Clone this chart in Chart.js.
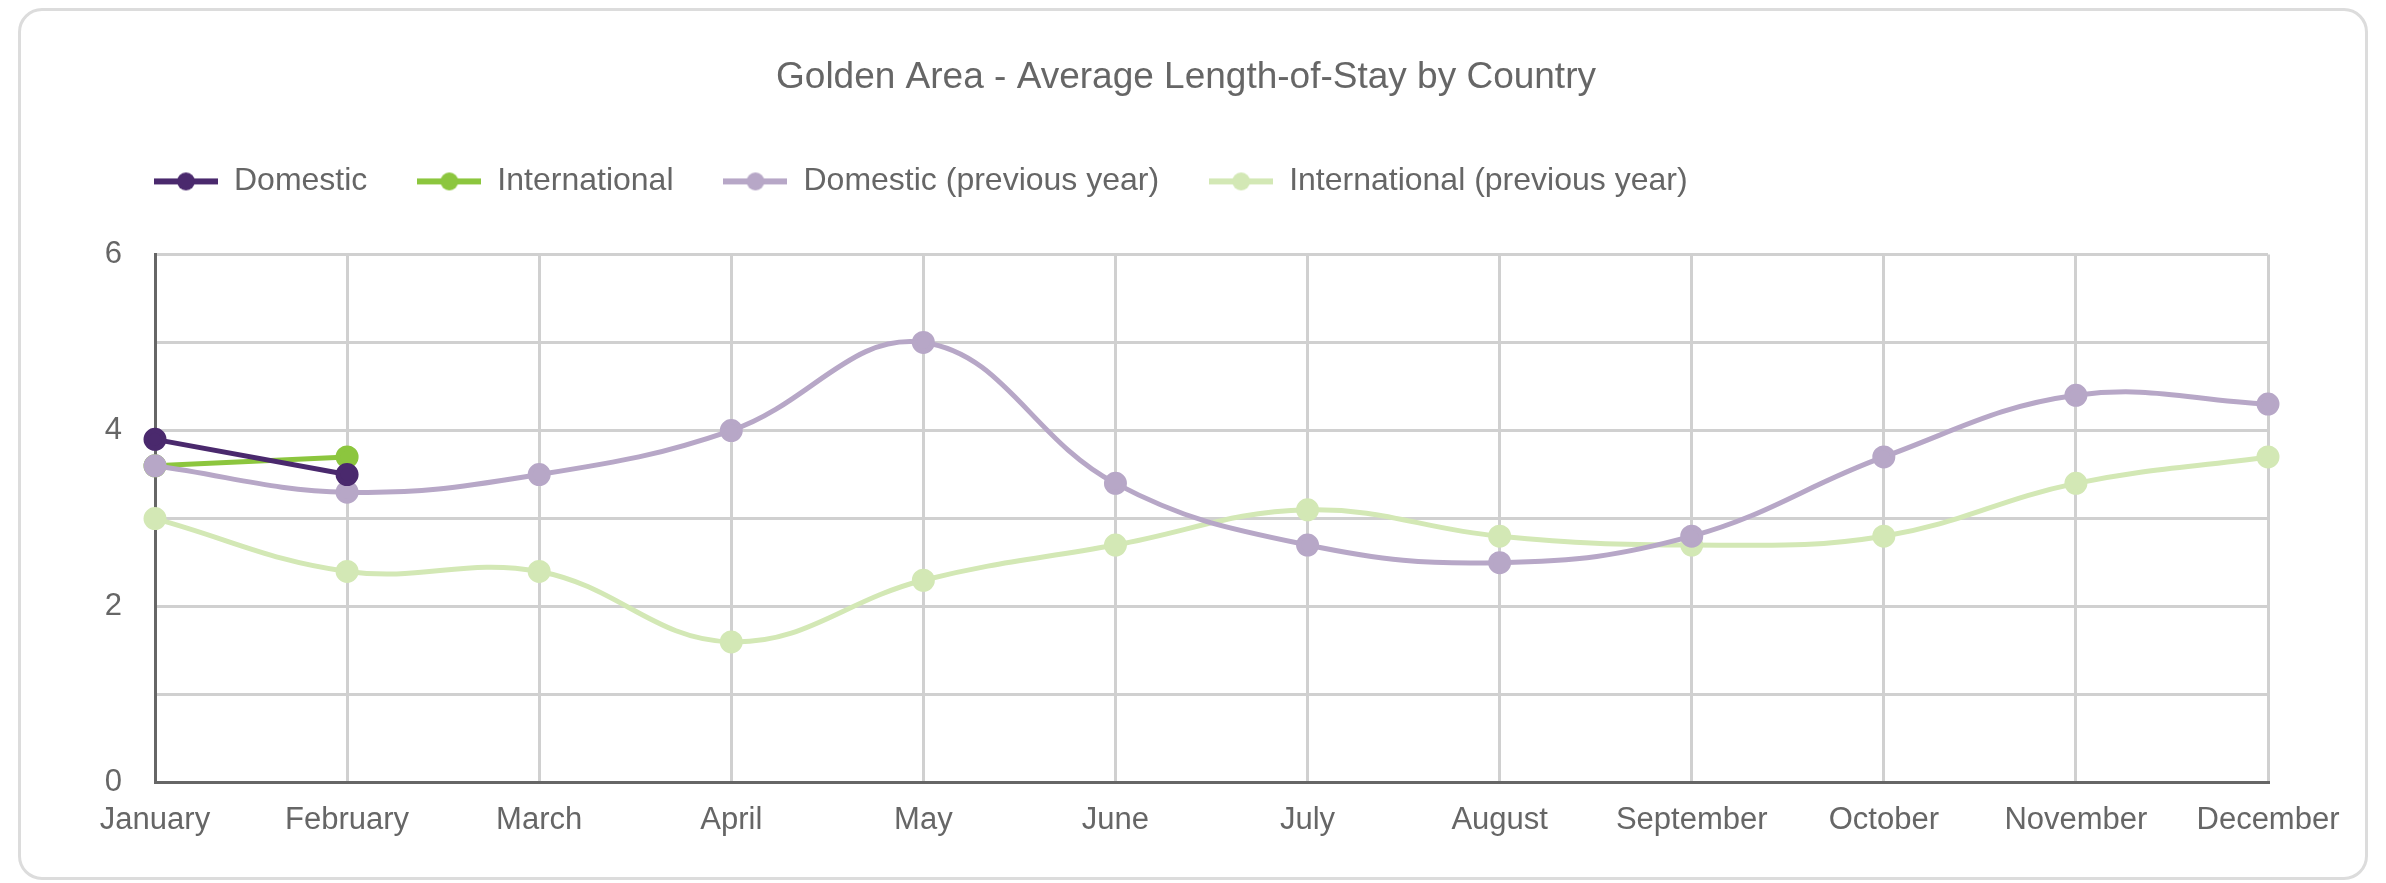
<!DOCTYPE html>
<html>
<head>
<meta charset="utf-8">
<script src="https://cdn.jsdelivr.net/npm/chart.js@4.4.1/dist/chart.umd.min.js"></script>
<style>
  html, body { margin: 0; padding: 0; background: #fff; }
  .card {
    position: absolute; left: 18px; top: 8px;
    width: 2350px; height: 872px; box-sizing: border-box;
    border: 3px solid #dcdcdc; border-radius: 24px; background: #fff;
  }
  .card canvas { display: block; }
</style>
</head>
<body>
<div class="card"><canvas id="chart" width="2344" height="866"></canvas></div>
<script>
const MONTHS = ['January', 'February', 'March', 'April', 'May', 'June',
  'July', 'August', 'September', 'October', 'November', 'December'];
const DOMESTIC = [3.9, 3.5];
const INTERNATIONAL = [3.6, 3.7];
const DOMESTIC_PREV = [3.6, 3.3, 3.5, 4.0, 5.0, 3.4, 2.7, 2.5, 2.8, 3.7, 4.4, 4.3];
const INTERNATIONAL_PREV = [3.0, 2.4, 2.4, 1.6, 2.3, 2.7, 3.1, 2.8, 2.7, 2.8, 3.4, 3.7];
const Y_LABELS = [0, 2, 4, 6];

const DARK_PURPLE = '#4a296d';
const GREEN = '#8cc63e';
const LILAC = '#b7a7c7';
const PALE_GREEN = '#d3e8b5';
const INK = '#666666';
const GRID = '#d0d0d0';

// legend marker: short line with a dot in the middle
function legendMarker(color) {
  const c = document.createElement('canvas');
  c.width = 64; c.height = 20;
  const g = c.getContext('2d');
  g.strokeStyle = color;
  g.lineWidth = 6;
  g.beginPath(); g.moveTo(0, 10); g.lineTo(64, 10); g.stroke();
  g.fillStyle = color;
  g.beginPath(); g.arc(32, 10, 9, 0, Math.PI * 2); g.fill();
  return c;
}

// order: lower number is painted on top
function series(label, data, color, tension, order) {
  return {
    label, data, order,
    borderColor: color,
    backgroundColor: color,
    pointBackgroundColor: color,
    pointBorderColor: color,
    borderWidth: 5,
    pointRadius: 9,
    pointHoverRadius: 9,
    tension,
    fill: false,
  };
}

const datasets = [
  series('Domestic', DOMESTIC, DARK_PURPLE, 0, 1),
  series('International', INTERNATIONAL, GREEN, 0, 3),
  series('Domestic (previous year)', DOMESTIC_PREV, LILAC, 0.4, 2),
  series('International (previous year)', INTERNATIONAL_PREV, PALE_GREEN, 0.4, 4),
];
const markers = datasets.map(d => legendMarker(d.borderColor));

// extra room between the legend and the plot
const legendGap = {
  id: 'legendGap',
  beforeInit(chart) {
    const fit = chart.legend.fit;
    chart.legend.fit = function () {
      fit.call(this);
      this.height += 47;
    };
  },
};

Chart.defaults.font.family = "'Liberation Sans', Arial, sans-serif";
Chart.defaults.color = INK;

new Chart(document.getElementById('chart'), {
  type: 'line',
  data: { labels: MONTHS, datasets },
  plugins: [legendGap],
  options: {
    responsive: false,
    animation: false,
    devicePixelRatio: 1,
    layout: { padding: { left: 83, right: 97, top: 10, bottom: 19 } },
    plugins: {
      title: {
        display: true,
        text: 'Golden Area - Average Length-of-Stay by Country',
        color: INK,
        font: { size: 37, weight: 'normal' },
        padding: { top: 35, bottom: 15 },
      },
      legend: {
        position: 'top',
        align: 'start',
        labels: {
          color: INK,
          font: { size: 32 },
          padding: 50,
          usePointStyle: true,
          pointStyleWidth: 64,
          generateLabels(chart) {
            return Chart.defaults.plugins.legend.labels.generateLabels(chart)
              .map(item => ({ ...item, pointStyle: markers[item.datasetIndex] }));
          },
          sort: (a, b) => a.datasetIndex - b.datasetIndex,
        },
      },
      tooltip: { enabled: false },
    },
    scales: {
      x: {
        grid: { color: GRID, lineWidth: 3, drawTicks: false },
        border: { color: INK, width: 3 },
        ticks: { color: INK, font: { size: 31 }, padding: 19, maxRotation: 0 },
      },
      y: {
        min: 0,
        max: 6,
        afterFit(scale) { scale.width = 51; },
        grid: { color: GRID, lineWidth: 3, drawTicks: false },
        border: { color: INK, width: 3 },
        ticks: {
          stepSize: 1,
          color: INK,
          font: { size: 31 },
          padding: 33,
          callback: v => (Y_LABELS.includes(v) ? String(v) : ''),
        },
      },
    },
  },
});
</script>
</body>
</html>
